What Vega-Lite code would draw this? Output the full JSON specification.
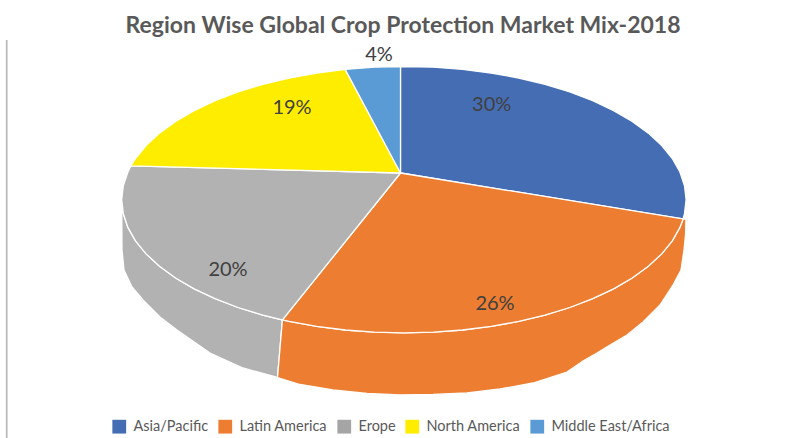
{
  "$schema": "https://vega.github.io/schema/vega-lite/v6.json",
  "width": 788,
  "height": 398,
  "autosize": "none",
  "padding": {"left": 0, "top": 40, "right": 0, "bottom": 0},
  "background": "white",
  "title": {
    "text": "Region Wise Global Crop Protection Market Mix-2018",
    "font": "Lato",
    "fontSize": 23,
    "fontWeight": "bold",
    "color": "#595959",
    "anchor": "middle",
    "frame": "group",
    "dx": 9,
    "offset": 2
  },
  "projection": {"type": "identity", "reflectY": true, "scale": 100, "translate": [400, 133]},
  "config": {"view": {"stroke": null}},
  "layer": [
    {
      "data": {
        "values": [
          {"type": "Feature", "properties": {"part": "border"}, "geometry": {"type": "LineString", "coordinates": [[-3.933, -2.7], [-3.933, 1.643], [3.9, 1.643]]}}
        ]
      },
      "mark": {"type": "geoshape", "filled": false, "stroke": "#b7b7b7", "strokeWidth": 1.7},
      "encoding": {}
    },
    {
      "data": {
        "values": [
          {"type": "Feature", "properties": {"region": "Erope", "face": "side"}, "geometry": {"type": "Polygon", "coordinates": [[[-1.176, -1.469], [-1.372, -1.421], [-1.62, -1.345], [-1.849, -1.257], [-2.058, -1.158], [-2.244, -1.05], [-2.405, -0.933], [-2.539, -0.809], [-2.645, -0.679], [-2.721, -0.544], [-2.767, -0.406], [-2.783, -0.267], [-2.78, -0.77], [-2.76, -0.97], [-2.68, -1.14], [-2.57, -1.27], [-2.4, -1.44], [-2.23, -1.57], [-1.9, -1.8], [-1.57, -1.95], [-1.225, -2.045], [-1.176, -1.469]]]}},
          {"type": "Feature", "properties": {"region": "Latin America", "face": "side"}, "geometry": {"type": "Polygon", "coordinates": [[[2.831, -0.459], [2.799, -0.544], [2.723, -0.679], [2.617, -0.809], [2.483, -0.933], [2.322, -1.05], [2.136, -1.158], [1.927, -1.257], [1.698, -1.345], [1.45, -1.421], [1.187, -1.484], [0.911, -1.534], [0.626, -1.57], [0.334, -1.592], [0.039, -1.599], [-0.256, -1.592], [-0.548, -1.57], [-0.833, -1.534], [-1.109, -1.484], [-1.176, -1.469], [-1.225, -2.045], [-1, -2.115], [-0.67, -2.17], [-0.33, -2.205], [0, -2.22], [0.33, -2.215], [0.67, -2.2], [1, -2.16], [1.33, -2.1], [1.67, -1.99], [1.83, -1.88], [1.97, -1.8], [2.1, -1.72], [2.27, -1.62], [2.43, -1.49], [2.6, -1.32], [2.73, -1.12], [2.81, -0.97], [2.84, -0.77], [2.855, -0.62], [2.86, -0.46], [2.831, -0.459]]]}},
          {"type": "Feature", "properties": {"region": "Asia/Pacific", "face": "top"}, "geometry": {"type": "Polygon", "coordinates": [[[0.005, 0], [0.005, 1.065], [0.334, 1.058], [0.626, 1.036], [0.911, 1], [1.187, 0.95], [1.45, 0.887], [1.698, 0.811], [1.927, 0.723], [2.136, 0.624], [2.322, 0.516], [2.483, 0.399], [2.617, 0.275], [2.723, 0.145], [2.799, 0.01], [2.845, -0.128], [2.861, -0.267], [2.845, -0.406], [2.831, -0.459], [0.005, 0]]]}},
          {"type": "Feature", "properties": {"region": "Latin America", "face": "top"}, "geometry": {"type": "Polygon", "coordinates": [[[0.005, 0], [2.831, -0.459], [2.799, -0.544], [2.723, -0.679], [2.617, -0.809], [2.483, -0.933], [2.322, -1.05], [2.136, -1.158], [1.927, -1.257], [1.698, -1.345], [1.45, -1.421], [1.187, -1.484], [0.911, -1.534], [0.626, -1.57], [0.334, -1.592], [0.039, -1.599], [-0.256, -1.592], [-0.548, -1.57], [-0.833, -1.534], [-1.109, -1.484], [-1.176, -1.469], [0.005, 0]]]}},
          {"type": "Feature", "properties": {"region": "Erope", "face": "top"}, "geometry": {"type": "Polygon", "coordinates": [[[0.005, 0], [-1.176, -1.469], [-1.372, -1.421], [-1.62, -1.345], [-1.849, -1.257], [-2.058, -1.158], [-2.244, -1.05], [-2.405, -0.933], [-2.539, -0.809], [-2.645, -0.679], [-2.721, -0.544], [-2.767, -0.406], [-2.783, -0.267], [-2.767, -0.128], [-2.721, 0.01], [-2.691, 0.071], [0.005, 0]]]}},
          {"type": "Feature", "properties": {"region": "North America", "face": "top"}, "geometry": {"type": "Polygon", "coordinates": [[[0.005, 0], [-2.691, 0.071], [-2.645, 0.145], [-2.539, 0.275], [-2.405, 0.399], [-2.244, 0.516], [-2.058, 0.624], [-1.849, 0.723], [-1.62, 0.811], [-1.372, 0.887], [-1.109, 0.95], [-0.833, 1], [-0.548, 1.036], [0.005, 0]]]}},
          {"type": "Feature", "properties": {"region": "Middle East/Africa", "face": "top"}, "geometry": {"type": "Polygon", "coordinates": [[[0.005, 0], [-0.548, 1.036], [-0.256, 1.058], [0.005, 1.065], [0.005, 0]]]}}
        ]
      },
      "mark": {"type": "geoshape", "stroke": "white", "strokeWidth": 1.3},
      "encoding": {
        "fill": {
          "field": "properties.region",
          "type": "nominal",
          "scale": {
            "domain": ["Asia/Pacific", "Latin America", "Erope", "North America", "Middle East/Africa"],
            "range": ["#456db4", "#ed7d31", "#a5a5a5", "#ffed00", "#5b9bd5"]
          },
          "legend": {
            "title": null,
            "orient": "none",
            "legendX": 112,
            "legendY": 379,
            "direction": "horizontal",
            "columns": 5,
            "symbolType": "square",
            "symbolSize": 190,
            "symbolStrokeWidth": 0,
            "labelFont": "Lato",
            "labelFontSize": 14.5,
            "labelColor": "#595959",
            "labelOffset": 7,
            "columnPadding": 9,
            "labelExpr": "datum.label === 'Middle East/Africa' ? '\u00a0\u00a0Middle East/Africa' : datum.label"
          }
        },
        "fillOpacity": {
          "condition": {"test": "datum.properties.region === 'Erope'", "value": 0.85},
          "value": 1
        }
      }
    },
    {
      "data": {
        "values": [
          {"region": "Asia/Pacific", "share": 0.30, "lon": 0.917, "lat": 0.68},
          {"region": "Latin America", "share": 0.26, "lon": 0.95, "lat": -1.31},
          {"region": "Erope", "share": 0.20, "lon": -1.72, "lat": -0.97},
          {"region": "North America", "share": 0.19, "lon": -1.08, "lat": 0.65},
          {"region": "Middle East/Africa", "share": 0.04, "lon": -0.21, "lat": 1.18}
        ]
      },
      "mark": {"type": "text", "font": "Lato", "fontSize": 20, "color": "#404040", "align": "center", "baseline": "middle"},
      "encoding": {
        "longitude": {"field": "lon", "type": "quantitative"},
        "latitude": {"field": "lat", "type": "quantitative"},
        "text": {"field": "share", "type": "quantitative", "format": ".0%"}
      }
    }
  ]
}
